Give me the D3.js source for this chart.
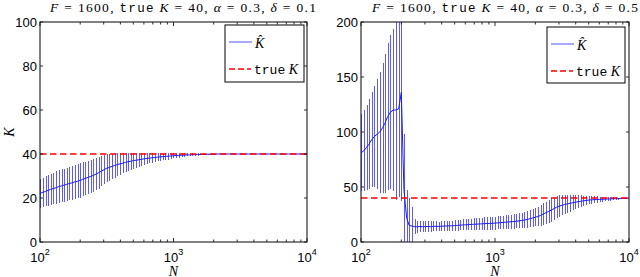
<!DOCTYPE html>
<html><head><meta charset="utf-8">
<script src="https://cdn.jsdelivr.net/npm/d3@7"></script>
<style>body{margin:0;background:#fff}svg{display:block}</style>
</head><body>
<svg id="c" width="640" height="277"></svg>
<script>
// ---- data ----
const N = [100,105,110,115,120,126,132,138,145,151,158,166,174,182,191,200,209,219,229,240,
251,263,275,288,302,316,331,347,363,380,398,417,437,457,479,501,525,550,575,603,
631,661,692,724,759,794,832,871,912,955,1000,1047,1096,1148,1202,1259,1318,1380,1445,1514,
1585,1660,1738,1820,1905,1995,2089,2188,2291,2399,2512,2630,2754,2884,3020,3162,3311,3467,3631,3802,
3981,4169,4365,4571,4786,5012,5248,5495,5754,6026,6310,6607,6918,7244,7586,7943,8318,8710,9120,9550,10000];

const leftMean = [22.1,22.6,23.0,23.5,23.9,24.3,24.7,25.2,25.5,25.8,26.2,26.6,26.9,27.3,27.6,28.0,28.5,28.9,29.4,29.8,
30.3,30.9,31.5,32.2,32.9,33.5,33.9,34.4,34.8,35.2,35.5,35.8,36.2,36.5,36.7,37.0,37.2,37.4,37.6,37.8,
38.0,38.1,38.3,38.4,38.6,38.7,38.8,38.9,39.0,39.1,39.2,39.3,39.4,39.4,39.5,39.6,39.6,39.7,39.7,39.8,
39.8,39.8,39.9,39.9,39.9,39.9,40,40,40,40,40,40,40,40,40,40,40,40,40,40,
40,40,40,40,40,40,40,40,40,40,40,40,40,40,40,40,40,40,40,40,40];
const leftSd = [6.5,6.7,6.8,7.0,7.1,7.2,7.4,7.5,7.5,7.6,7.6,7.7,7.7,7.8,7.8,7.8,7.7,7.6,7.5,7.5,
7.4,7.3,7.2,6.9,6.6,6.3,6.0,5.8,5.5,5.2,4.9,4.6,4.3,4.0,3.8,3.6,3.4,3.2,3.0,2.8,
2.6,2.4,2.3,2.1,2.0,1.8,1.7,1.6,1.5,1.3,1.2,1.1,1.0,0.9,0.8,0.7,0.6,0.6,0.5,0.5,
0.4,0.4,0.3,0.3,0.2,0.2,0.2,0.1,0.1,0.1,0.1,0,0,0,0,0,0,0,0,0,
0,0,0,0,0,0,0,0,0,0,0,0,0,0,0,0,0,0,0,0,0];

const rightMean = [81,83,86,89,93,96,98,100,104,108,114,118,120,120,121,136,48,22,15,14.5,
14.0,13.8,14.1,13.9,14.0,14.1,13.9,14.2,14.3,14.1,14.4,14.5,14.6,14.8,14.7,15.0,15.1,15.3,15.5,15.6,
15.8,15.9,16.1,16.2,16.4,16.5,16.7,16.8,16.9,17.0,17.2,17.4,17.6,17.8,18.0,18.2,18.4,18.6,18.9,19.2,
19.6,20.0,20.5,21.2,21.8,22.5,23.2,24.2,25.4,26.6,27.8,29.0,30.4,31.6,32.6,33.4,34.1,34.7,35.2,35.7,
36.2,36.6,37.0,37.4,37.8,38.1,38.3,38.5,38.6,38.8,38.9,39.0,39.1,39.2,39.3,39.4,39.5,39.6,39.7,39.8,39.8];
const rightSd = [35,37,39,41,43,46,50,55,59,63,67,70,74,82,80,99,50,25,25,17,
6.5,5.5,5.2,4.8,5.0,4.6,4.8,4.5,4.7,4.5,4.6,4.5,4.7,4.6,4.8,4.7,4.9,4.8,5.0,5.0,
5.1,5.2,5.3,5.3,5.4,5.5,5.6,5.6,5.7,5.8,5.9,6.0,6.1,6.1,6.2,6.3,6.4,6.5,6.6,6.8,
7.0,7.2,7.4,7.7,8.0,8.4,8.8,9.3,9.8,10.2,10.5,10.6,10.5,10.2,9.8,9.3,8.8,8.2,7.6,7.0,
6.4,5.9,5.3,4.8,4.3,3.9,3.5,3.1,2.8,2.5,2.2,1.9,1.7,1.5,1.3,1.1,0.9,0.8,0.7,0.6,0.5];

const trueK = 40;
const xTickValues = [100, 1000, 10000];
const xTickExponents = ["2", "3", "4"];
const leftYTicks = [0, 20, 40, 60, 80, 100];
const rightYTicks = [0, 50, 100, 150, 200];
const titleF = "1600", titleK = "40", titleAlpha = "0.3";
const titleDeltas = ["0.1", "0.5"];
const legendLabels = ["K\u0302", "true K"];

// ---- layout ----
const svg = d3.select("#c");
svg.append("rect").attr("width",640).attr("height",277).attr("fill","#fff");
const SERIF = "'Liberation Serif', 'Times New Roman', serif";
const SANS = "'Liberation Sans', Arial, sans-serif";
const MONO = "'Liberation Mono', 'Courier New', monospace";
const yBottom = 242, yTop = 22;

const panels = [
  {mean:leftMean, sd:leftSd, yMax:100, yTicks:leftYTicks, delta:titleDeltas[0], x0:40, x1:307,
   titleX:50, legend:{x:225,y:25,w:79,h:57}, ylabel:true},
  {mean:rightMean, sd:rightSd, yMax:200, yTicks:rightYTicks, delta:titleDeltas[1], x0:361, x1:629,
   titleX:372, legend:{x:547,y:27,w:78,h:56}, ylabel:false}
];

panels.forEach((p, pi) => {
  const x = d3.scaleLog().domain([100, 10000]).range([p.x0, p.x1]);
  const y = d3.scaleLinear().domain([0, p.yMax]).range([yBottom, yTop]);
  const g = svg.append("g");
  const cid = "clip" + pi;
  svg.append("clipPath").attr("id", cid).append("rect")
    .attr("x", p.x0).attr("y", yTop).attr("width", p.x1 - p.x0).attr("height", yBottom - yTop);

  const data = N.map((n, i) => ({n, m: p.mean[i], s: p.sd[i]}));
  const dg = g.append("g").attr("clip-path", `url(#${cid})`);
  dg.selectAll("line.eb").data(data.filter(d => d.s > 0)).join("line")
    .attr("class","eb")
    .attr("x1", d => Math.round(x(d.n)) + 0.5).attr("x2", d => Math.round(x(d.n)) + 0.5)
    .attr("y1", d => y(d.m - d.s)).attr("y2", d => y(d.m + d.s))
    .attr("stroke", "#5a5aff").attr("stroke-width", 1).attr("shape-rendering","crispEdges");
  dg.append("path").datum(data)
    .attr("d", d3.line().x(d => x(d.n)).y(d => y(d.m)))
    .attr("fill","none").attr("stroke","#1a1aff").attr("stroke-width",1);
  dg.append("line").attr("x1", p.x0).attr("x2", p.x1).attr("y1", y(trueK)).attr("y2", y(trueK))
    .attr("stroke","#ff0000").attr("stroke-width",1.6).attr("stroke-dasharray","6.5,3.5");

  // frame
  g.append("rect").attr("x", p.x0).attr("y", yTop).attr("width", p.x1 - p.x0).attr("height", yBottom - yTop)
    .attr("fill","none").attr("stroke","#1a1a1a").attr("stroke-width",1.1);

  // x ticks (major + minor, inside, top & bottom)
  const minor = x.ticks().filter(t => !xTickValues.includes(t));
  const tk = g.append("g").attr("stroke","#1a1a1a").attr("stroke-width",0.9);
  xTickValues.forEach(t => {
    tk.append("line").attr("x1",x(t)).attr("x2",x(t)).attr("y1",yBottom).attr("y2",yBottom-4);
    tk.append("line").attr("x1",x(t)).attr("x2",x(t)).attr("y1",yTop).attr("y2",yTop+4);
  });
  minor.forEach(t => {
    tk.append("line").attr("x1",x(t)).attr("x2",x(t)).attr("y1",yBottom).attr("y2",yBottom-2.5);
    tk.append("line").attr("x1",x(t)).attr("x2",x(t)).attr("y1",yTop).attr("y2",yTop+2.5);
  });
  p.yTicks.forEach(t => {
    tk.append("line").attr("x1",p.x0).attr("x2",p.x0+3).attr("y1",y(t)).attr("y2",y(t));
    tk.append("line").attr("x1",p.x1).attr("x2",p.x1-3).attr("y1",y(t)).attr("y2",y(t));
  });

  // tick labels
  p.yTicks.forEach(t => {
    g.append("text").attr("x", p.x0 - 3).attr("y", y(t) + 4.6).attr("text-anchor","end")
      .attr("font-family", SANS).attr("font-size", 13).attr("fill","#000").text(t);
  });
  xTickValues.forEach((t, i) => {
    const tx = g.append("text").attr("x", x(t)).attr("y", 261.5).attr("text-anchor","middle")
      .attr("font-family", SANS).attr("font-size", 13).attr("fill","#000");
    tx.append("tspan").text("10");
    tx.append("tspan").attr("dy", -7).attr("font-size", 9).text(xTickExponents[i]);
  });

  // axis labels
  g.append("text").attr("x", (p.x0 + p.x1) / 2).attr("y", 275.5).attr("text-anchor","middle")
    .attr("font-family", SERIF).attr("font-style","italic").attr("font-size", 14).text("N");
  if (p.ylabel) {
    g.append("text").attr("transform", `translate(14,132) rotate(-90)`).attr("text-anchor","middle")
      .attr("font-family", SERIF).attr("font-style","italic").attr("font-size", 14).text("K");
  }

  // title
  const tt = g.append("text").attr("x", p.titleX).attr("y", 11.5)
    .attr("font-family", SERIF).attr("font-size", 13.5).attr("fill","#000")
    .attr("textLength", 266).attr("lengthAdjust", "spacing");
  tt.append("tspan").attr("font-style","italic").text("F");
  tt.append("tspan").text(" = " + titleF + ", ");
  tt.append("tspan").attr("font-family", MONO).attr("font-size", 12.5).text("true");
  tt.append("tspan").text(" ");
  tt.append("tspan").attr("font-style","italic").text("K");
  tt.append("tspan").text(" = " + titleK + ", ");
  tt.append("tspan").attr("font-style","italic").text("α");
  tt.append("tspan").text(" = " + titleAlpha + ", ");
  tt.append("tspan").attr("font-style","italic").text("δ");
  tt.append("tspan").text(" = " + p.delta);

  // legend
  const L = p.legend;
  const lg = g.append("g");
  lg.append("rect").attr("x", L.x).attr("y", L.y).attr("width", L.w).attr("height", L.h)
    .attr("fill","#fff").attr("stroke","#1a1a1a").attr("stroke-width",1.1);
  const ly1 = L.y + 17, ly2 = L.y + 44;
  lg.append("line").attr("x1", L.x + 4).attr("x2", L.x + 27).attr("y1", ly1).attr("y2", ly1)
    .attr("stroke","#7070ff").attr("stroke-width",1.2);
  lg.append("line").attr("x1", L.x + 4).attr("x2", L.x + 26).attr("y1", ly2).attr("y2", ly2)
    .attr("stroke","#ff0000").attr("stroke-width",1.6).attr("stroke-dasharray","6,3");
  lg.append("text").attr("x", L.x + 30).attr("y", ly1 + 5.5).attr("font-family", SERIF)
    .attr("font-style","italic").attr("font-size", 14).text(legendLabels[0]);
  const t2 = lg.append("text").attr("x", L.x + 29).attr("y", ly2 + 4.5).attr("font-family", SERIF)
    .attr("font-size", 14);
  t2.append("tspan").attr("font-family", MONO).attr("font-size", 13).text(legendLabels[1].split(" ")[0]);
  t2.append("tspan").text(" ");
  t2.append("tspan").attr("font-style","italic").text(legendLabels[1].split(" ")[1]);
});
</script>
</body></html>
